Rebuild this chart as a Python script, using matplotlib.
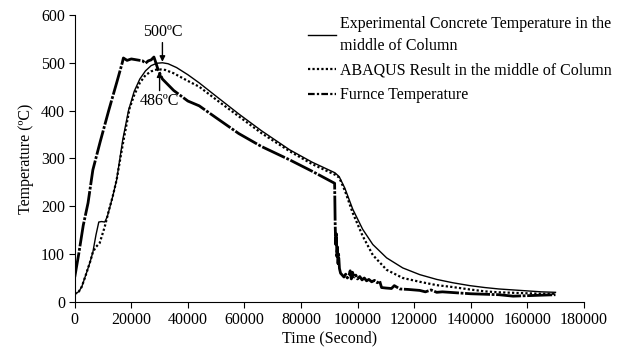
import numpy as np
import matplotlib
matplotlib.use('Agg')
import matplotlib.pyplot as plt

plt.rcParams['font.family'] = ['Liberation Serif', 'DejaVu Serif']

# furnace temperature (thick dash-dot)
furn_t = [0, 1400, 3000, 4700, 6400, 9000, 12000, 15000, 16800, 17200, 18500, 20000, 22000, 24000,
          25000, 26000, 27000, 28000, 28400, 29500, 31000, 35000, 40000, 44000, 50000, 58000, 66000,
          76000, 84000, 91900, 92100, 92300, 92500, 92700, 92900, 93100, 93300, 93600, 94000, 94600,
          95200, 95800, 96400, 97000, 97400, 97800, 98200, 98800, 99400, 100000, 100800, 101600,
          102400, 103200, 104000, 105000, 106000, 107000, 107800, 108500, 110000, 112000, 113000,
          115000, 118000, 122000, 124000, 126000, 128000, 130000, 135000, 140000, 145000, 150000,
          155000, 160000, 165000, 170000]
furn_T = [52, 100, 160, 207, 276, 335, 400, 462, 500, 510, 505, 508, 506, 504,
          499, 504, 506, 512, 505, 485, 466, 442, 420, 410, 385, 352, 325,
          297, 273, 248, 160, 120, 145, 95, 115, 80, 100, 70, 60, 56,
          52, 58, 50, 56, 65, 48, 62, 52, 56, 48, 53, 46,
          50, 44, 47, 42, 45, 40, 44, 30, 29, 28, 34,
          27, 26, 24, 21, 25, 20, 21, 19, 17, 16, 15,
          12, 13, 14, 15]

# experimental concrete temperature, middle of column (thin solid)
exp_t = [0, 600, 1500, 2500, 4000, 5500, 6400, 7500, 8500, 9500, 10600, 11500, 13400, 14800, 17000,
         19000, 21000, 23000, 25000, 27000, 29000, 31000, 33000, 36000, 40000, 44000, 50000, 58000,
         66000, 76000, 84000, 92000, 93500, 95500, 98300, 101800, 105400, 110300, 116000, 122000,
         128000, 133700, 139700, 145000, 150000, 155000, 160000, 165000, 170000]
exp_T = [20, 18, 22, 32, 58, 85, 104, 140, 167, 168, 167, 178, 220, 255, 340,
         400, 440, 466, 483, 494, 499, 500, 498, 490, 475, 458, 430, 393,
         358, 318, 292, 270, 262, 238, 194, 152, 120, 92, 71, 57,
         47, 40, 34, 30, 27, 25, 23, 21, 20]

# ABAQUS result, middle of column (dotted)
abq_t = [0, 600, 1500, 2500, 4000, 5500, 6400, 7500, 8800, 10600, 12000, 13400, 14800, 17000, 19400,
         21000, 23000, 25000, 27000, 29000, 30500, 32000, 35000, 40000, 44000, 50000, 58000, 66000,
         76000, 84000, 92000, 93500, 95500, 98300, 101800, 105400, 110300, 116000, 122000, 128000,
         133700, 139700, 145000, 150000, 155000, 160000, 165000, 170000]
abq_T = [20, 18, 22, 32, 58, 85, 104, 115, 123, 157, 190, 220, 255, 330, 405,
         432, 458, 474, 482, 486, 486, 485, 478, 462, 450, 423, 388, 353,
         315, 288, 266, 260, 233, 186, 138, 98, 67, 50, 42, 35,
         31, 26, 22, 20, 19, 18, 17, 17]

fig = plt.figure(figsize=(6.23, 3.56), dpi=100)
ax = fig.add_axes([0.12, 0.152, 0.817, 0.806])

ax.plot(exp_t, exp_T, c='k', lw=1.0, label='Experimental Concrete Temperature in the\nmiddle of Column')
ax.plot(abq_t, abq_T, c='k', lw=1.6, ls=(0, (1, 1)), label='ABAQUS Result in the middle of Column')
ax.plot(furn_t, furn_T, c='k', lw=2.0, ls=(0, (9, 0.6, 1, 0.6)), label='Furnce Temperature')

ax.annotate('500ºC', xy=(31000, 502), xytext=(31000, 548), ha='center', va='bottom', fontsize=11.5,
            arrowprops=dict(arrowstyle='-|>', color='k', lw=1, mutation_scale=8, shrinkA=0, shrinkB=0))
ax.annotate('486ºC', xy=(30000, 482), xytext=(30000, 436), ha='center', va='top', fontsize=11.5,
            arrowprops=dict(arrowstyle='-|>', color='k', lw=1, mutation_scale=8, shrinkA=0, shrinkB=0))

ax.set_xlim(0, 180000)
ax.set_ylim(0, 600)
ax.set_xticks(np.arange(0, 180001, 20000))
ax.set_yticks(np.arange(0, 601, 100))
ax.tick_params(labelsize=11.5, direction='out', length=4, width=0.8, colors='k', pad=3)
ax.spines['top'].set_visible(False)
ax.spines['right'].set_visible(False)
ax.set_xlabel('Time (Second)', fontsize=11.5, labelpad=2)
ax.set_ylabel('Temperature (ºC)', fontsize=11.5, labelpad=5)

leg = ax.legend(loc='upper left', bbox_to_anchor=(0.445, 1.018), frameon=False, fontsize=11.5,
                handlelength=1.75, handletextpad=0.25, labelspacing=0.55, borderaxespad=0)
for txt in leg.get_texts():
    txt.set_linespacing(1.45)
# legend handle for furnace shows the dash-dot pattern
leg.get_lines()[2].set_linestyle((0, (3, 1, 1, 1)))
leg.get_lines()[2].set_linewidth(1.6)

plt.savefig('out.png', dpi=100)
